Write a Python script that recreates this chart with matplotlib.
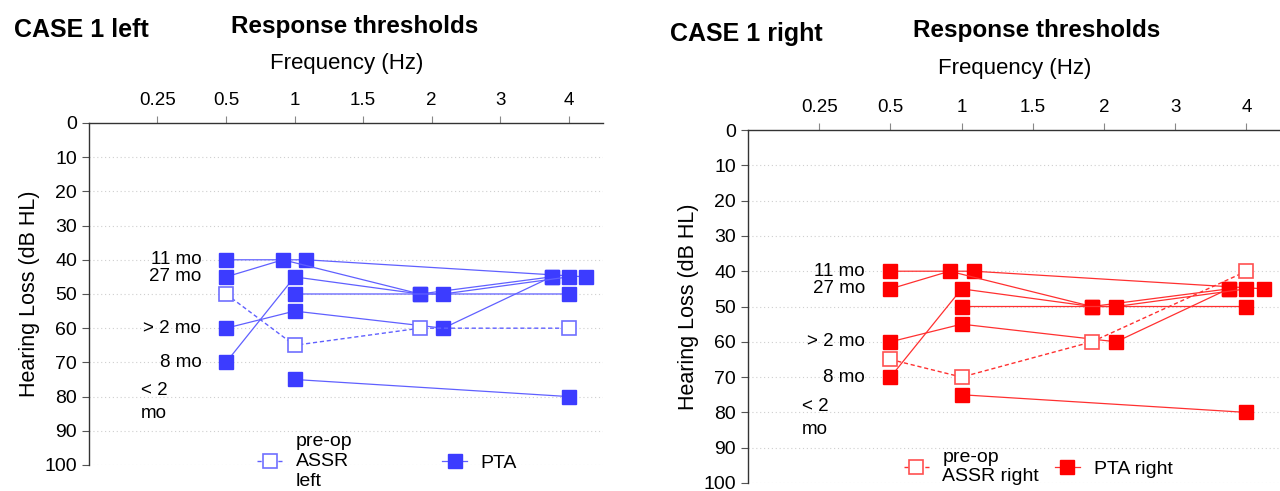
import matplotlib
matplotlib.use('Agg')
import matplotlib.pyplot as plt

plt.rcParams['font.family'] = ['Liberation Sans', 'DejaVu Sans']

# Frequency axis is categorical (kHz)
freq_labels = ['0.25', '0.5', '1', '1.5', '2', '3', '4']
db_ticks = list(range(0, 101, 10))

# PTA thresholds (dB HL) per test age, same layout for both ears
pta_11mo_f = ['0.5', '1', '4']
pta_11mo = [40, 40, 45]
pta_27mo_f = ['0.5', '1', '2', '4']
pta_27mo = [45, 40, 50, 45]
pta_gt2mo_f = ['0.5', '1', '2', '4']
pta_gt2mo = [60, 55, 60, 45]
pta_8mo_f = ['0.5', '1', '2', '4']
pta_8mo = [70, 45, 50, 50]
pta_extra_f = ['1', '2', '4']
pta_extra = [50, 50, 45]
pta_lt2mo_f = ['1', '4']
pta_lt2mo = [75, 80]

# pre-op ASSR
assr_f = ['0.5', '1', '2', '4']
assr_left = [50, 65, 60, 60]
assr_right = [65, 70, 60, 40]

# age labels next to the 0.5 kHz column
age_labels = ['11 mo', '27 mo', '> 2 mo', '8 mo']
age_label_db = [40, 45, 60, 70]

idx = {f: i for i, f in enumerate(freq_labels)}

# small sideways offsets so overlapping squares stay visible
pta_sets = [
    (pta_11mo_f, pta_11mo, [0, 0.17, 0.25]),
    (pta_27mo_f, pta_27mo, [0, -0.17, -0.17, -0.25]),
    (pta_gt2mo_f, pta_gt2mo, [0, 0, 0.17, -0.25]),
    (pta_8mo_f, pta_8mo, [0, 0, -0.17, 0]),
    (pta_extra_f, pta_extra, [0, 0.17, 0]),
    (pta_lt2mo_f, pta_lt2mo, [0, 0]),
]
assr_shift = [0, 0, -0.17, 0]


def xs(freqs, shift):
    return [idx[f] + s for f, s in zip(freqs, shift)]


def draw_panel(ax, assr, mcol, lcol, ocol, assr_label, pta_label):
    for k, (f, v, sh) in enumerate(pta_sets):
        ax.plot(xs(f, sh), v, '-', color=lcol, lw=0.9, marker='s', ms=10,
                mfc=mcol, mec=mcol, zorder=3,
                label=pta_label if k == 0 else None)
    ax.plot(xs(assr_f, assr_shift), assr, color=lcol, lw=1.0, dashes=(3, 2),
            marker='s', ms=10, mfc='white', mec=ocol, mew=1.2, zorder=4,
            label=assr_label)

    for txt, y in zip(age_labels, age_label_db):
        ax.text(0.64, y, txt, ha='right', va='center', fontsize=13.5)
    ax.text(-0.24, 81.5, '< 2\nmo', ha='left', va='center', fontsize=13.5,
            linespacing=1.45)

    ax.set_xlim(-1, 6.5)
    ax.set_ylim(100, 0)
    ax.xaxis.tick_top()
    ax.set_xticks(range(len(freq_labels)))
    ax.set_xticklabels(freq_labels, fontsize=13.5)
    ax.set_yticks(db_ticks)
    ax.tick_params(axis='y', labelsize=14, length=5, color='#555555')
    ax.tick_params(axis='x', length=5, color='#888888', pad=5)
    for y in db_ticks[1:]:
        ax.axhline(y, color='#cfcfcf', lw=0.8, ls=(0, (1, 2.5)), zorder=1)
    for s in ['right', 'bottom']:
        ax.spines[s].set_visible(False)
    for s in ['left', 'top']:
        ax.spines[s].set_color('#333333')
        ax.spines[s].set_linewidth(1.0)
    ax.set_ylabel('Hearing Loss (dB HL)', fontsize=15.5, labelpad=3)


fig = plt.figure(figsize=(12.8, 4.91), dpi=100)
ax1 = fig.add_axes([0.0695, 0.053, 0.4016, 0.6965])
ax2 = fig.add_axes([0.5844, 0.0163, 0.4172, 0.7189])

draw_panel(ax1, assr_left, '#3c3cff', '#6060ff', '#7070ff',
           'pre-op\nASSR\nleft', 'PTA')
draw_panel(ax2, assr_right, '#ff0000', '#ff3030', '#ff5050',
           'pre-op\nASSR right', 'PTA right')

h, l = ax1.get_legend_handles_labels()
ax1.legend(h[::-1], l[::-1], ncol=2, frameon=False, fontsize=14,
           loc='center', bbox_to_anchor=(0.58, 0.01), columnspacing=4.6,
           handlelength=1.3, handletextpad=0.7)
h, l = ax2.get_legend_handles_labels()
ax2.legend(h[::-1], l[::-1], ncol=2, frameon=False, fontsize=14,
           loc='center', bbox_to_anchor=(0.543, 0.045), columnspacing=0.8,
           handlelength=1.3, handletextpad=0.7)

# panel headings
fig.text(14 / 1280, 1 - 37 / 491, 'CASE 1 left', fontsize=18,
         fontweight='bold', va='baseline')
fig.text(355 / 1280, 1 - 33 / 491, 'Response thresholds', fontsize=17.5,
         fontweight='bold', ha='center', va='baseline')
fig.text(347 / 1280, 1 - 69 / 491, 'Frequency (Hz)', fontsize=16,
         ha='center', va='baseline')
fig.text(670 / 1280, 1 - 41 / 491, 'CASE 1 right', fontsize=18,
         fontweight='bold', va='baseline')
fig.text(1037 / 1280, 1 - 37 / 491, 'Response thresholds', fontsize=17.5,
         fontweight='bold', ha='center', va='baseline')
fig.text(1015 / 1280, 1 - 74 / 491, 'Frequency (Hz)', fontsize=16,
         ha='center', va='baseline')

fig.savefig('out.png', dpi=100)
